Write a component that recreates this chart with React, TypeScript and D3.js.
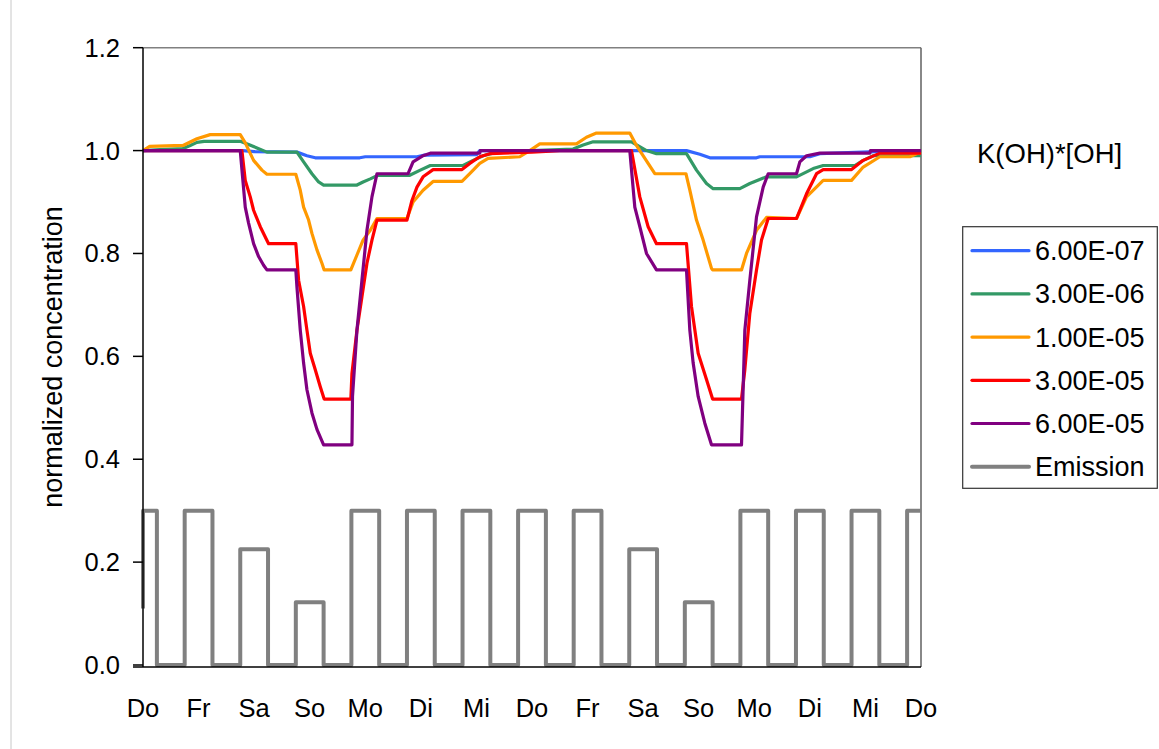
import React from "react";
import * as d3 from "d3";

const dayLabels = ["Do", "Fr", "Sa", "So", "Mo", "Di", "Mi", "Do", "Fr", "Sa", "So", "Mo", "Di", "Mi", "Do"];
const yTickValues = [0, 0.2, 0.4, 0.6, 0.8, 1.0, 1.2];

// [day, normalized concentration]
const k6e7: [number, number][] = [
  [0, 1.0], [1.8, 1.0], [2.0, 0.998], [2.77, 0.997], [2.95, 0.99], [3.1, 0.986], [3.9, 0.986], [4.0, 0.988],
  [4.93, 0.988], [5.05, 0.991], [6.0, 0.992], [6.06, 1.0], [9.78, 1.0], [10.02, 0.993], [10.2, 0.986],
  [11.04, 0.986], [11.1, 0.988], [12.0, 0.988], [12.18, 0.994], [13.2, 0.998], [14, 1.0],
];

const k3e6: [number, number][] = [
  [0, 1.0], [0.3, 1.002], [0.72, 1.004], [0.85, 1.01], [0.97, 1.016], [1.1, 1.018], [1.75, 1.018], [1.9, 1.012],
  [2.05, 1.005], [2.23, 0.997], [2.77, 0.997], [2.89, 0.978], [3.04, 0.955], [3.16, 0.939], [3.25, 0.933],
  [3.85, 0.933], [3.96, 0.939], [4.09, 0.945], [4.23, 0.952], [4.8, 0.952], [4.99, 0.962], [5.17, 0.971],
  [5.76, 0.971], [5.94, 0.981], [6.12, 0.99], [6.3, 0.995], [6.7, 0.998], [7.0, 1.0], [7.74, 1.003],
  [7.92, 1.011], [8.1, 1.017], [8.79, 1.017], [9.06, 1.0], [9.24, 0.994], [9.78, 0.994], [9.96, 0.962],
  [10.14, 0.936], [10.26, 0.926], [10.74, 0.926], [10.92, 0.936], [11.22, 0.949], [11.76, 0.949],
  [12.06, 0.965], [12.24, 0.971], [12.81, 0.971], [12.96, 0.981], [13.14, 0.99], [13.8, 0.99], [14, 0.99],
];

const k1e5: [number, number][] = [
  [0, 1.0], [0.12, 1.008], [0.72, 1.01], [0.97, 1.023], [1.21, 1.031], [1.75, 1.031], [1.84, 1.015],
  [1.99, 0.981], [2.14, 0.962], [2.23, 0.954], [2.75, 0.954], [2.83, 0.923], [2.89, 0.89], [2.98, 0.865],
  [3.04, 0.839], [3.13, 0.807], [3.22, 0.781], [3.26, 0.768], [3.74, 0.768], [3.85, 0.797], [3.96, 0.826],
  [4.09, 0.845], [4.21, 0.868], [4.75, 0.868], [4.86, 0.9], [5.04, 0.923], [5.22, 0.94], [5.74, 0.94],
  [5.88, 0.955], [6.06, 0.975], [6.21, 0.985], [6.78, 0.988], [6.96, 1.0], [7.14, 1.013], [7.8, 1.013],
  [7.98, 1.026], [8.16, 1.034], [8.76, 1.034], [8.88, 1.01], [8.94, 1.0], [9.21, 0.955], [9.77, 0.955],
  [9.84, 0.923], [9.96, 0.865], [10.08, 0.826], [10.23, 0.771], [10.25, 0.768], [10.77, 0.768],
  [10.86, 0.8], [11.04, 0.845], [11.22, 0.87], [11.76, 0.868], [11.94, 0.91], [12.24, 0.942],
  [12.75, 0.942], [12.96, 0.968], [13.26, 0.988], [13.8, 0.988], [13.95, 0.995], [14, 0.997],
];

const k3e5: [number, number][] = [
  [0, 1.0], [1.78, 1.0], [1.84, 0.942], [1.93, 0.91], [1.99, 0.884], [2.11, 0.852], [2.2, 0.832],
  [2.26, 0.819], [2.75, 0.819], [2.8, 0.748], [2.89, 0.697], [2.95, 0.651], [3.01, 0.606], [3.1, 0.574],
  [3.19, 0.541], [3.26, 0.517], [3.74, 0.517], [3.76, 0.567], [3.85, 0.651], [3.94, 0.716], [4.03, 0.781],
  [4.12, 0.826], [4.21, 0.865], [4.75, 0.865], [4.84, 0.903], [4.93, 0.929], [5.04, 0.949], [5.22, 0.963],
  [5.74, 0.963], [5.88, 0.975], [6.06, 0.988], [6.24, 0.994], [7.0, 0.997], [7.5, 1.0], [8.79, 1.0],
  [8.94, 0.91], [9.09, 0.852], [9.24, 0.819], [9.78, 0.819], [9.87, 0.697], [9.99, 0.606], [10.14, 0.555],
  [10.25, 0.517], [10.77, 0.517], [10.83, 0.574], [10.92, 0.684], [11.04, 0.768], [11.13, 0.826],
  [11.25, 0.868], [11.76, 0.868], [11.94, 0.916], [12.12, 0.955], [12.24, 0.963], [12.75, 0.963],
  [12.96, 0.981], [13.26, 0.995], [14, 0.995],
];

const k6e5: [number, number][] = [
  [0, 1.0], [1.75, 1.0], [1.84, 0.89], [1.9, 0.859], [1.99, 0.819], [2.08, 0.794], [2.17, 0.777],
  [2.23, 0.768], [2.75, 0.768], [2.77, 0.735], [2.83, 0.651], [2.89, 0.587], [2.95, 0.535], [3.04, 0.49],
  [3.13, 0.458], [3.25, 0.428], [3.76, 0.428], [3.77, 0.522], [3.85, 0.651], [3.94, 0.748], [4.03, 0.845],
  [4.12, 0.91], [4.21, 0.955], [4.77, 0.955], [4.86, 0.978], [5.04, 0.99], [5.17, 0.995], [6.06, 0.995],
  [6.07, 1.0], [8.76, 1.0], [8.85, 0.89], [8.94, 0.852], [9.06, 0.8], [9.24, 0.768], [9.78, 0.768],
  [9.84, 0.651], [9.9, 0.587], [9.99, 0.522], [10.11, 0.47], [10.23, 0.428], [10.77, 0.428], [10.83, 0.651],
  [10.92, 0.748], [11.04, 0.871], [11.16, 0.929], [11.25, 0.955], [11.76, 0.955], [11.82, 0.978],
  [11.94, 0.99], [12.18, 0.995], [13.08, 0.995], [13.09, 1.0], [14, 1.0],
];

// emission level of the pulse around each day tick
const emissionLevels = [0.3, 0.3, 0.225, 0.122, 0.3, 0.3, 0.3, 0.3, 0.3, 0.225, 0.122, 0.3, 0.3, 0.3, 0.3];
const emissionStart = 0.11;
const pulseHalfWidth = 0.25;

const seriesNames = ["6.00E-07", "3.00E-06", "1.00E-05", "3.00E-05", "6.00E-05", "Emission"];
const seriesColors = ["#3366ff", "#339966", "#ff9900", "#ff0000", "#800080", "#808080"];

const W = 1159;
const H = 749;
const left = 143;
const right = 921;
const top = 47.7;
const bottom = 665;
const font = "'Liberation Sans', Arial, sans-serif";

export default function App() {
  const x = d3.scaleLinear().domain([0, 14]).range([left, right]);
  const y = d3.scaleLinear().domain([0, 1.2]).range([bottom, top]);
  const line = d3
    .line<[number, number]>()
    .x((d) => x(d[0]))
    .y((d) => y(d[1]));

  // build emission step path from the daily levels
  const emission: [number, number][] = [[0, emissionStart]];
  emissionLevels.forEach((v, i) => {
    const a = Math.max(0, i - pulseHalfWidth);
    const b = Math.min(14, i + pulseHalfWidth);
    if (i > 0) emission.push([a, 0]);
    emission.push([a, v], [b, v]);
    if (i < 14) emission.push([b, 0]);
  });

  const series = [k6e7, k3e6, k1e5, k3e5, k6e5, emission];

  return (
    <svg width={W} height={H} style={{ position: "absolute", left: 0, top: 0, background: "#fff" }}>
      <line x1={11} x2={11} y1={0} y2={H} stroke="#c8c8c8" strokeWidth={1} />

      {/* frame */}
      <line x1={left} x2={right} y1={top} y2={top} stroke="#808080" strokeWidth={1.5} />
      <line x1={right} x2={right} y1={top} y2={bottom + 2} stroke="#606060" strokeWidth={1.5} />

      {series.map((s, i) => (
        <path
          key={seriesNames[i]}
          d={line(s) ?? ""}
          fill="none"
          stroke={seriesColors[i]}
          strokeWidth={i === 5 ? 4 : 3.2}
          strokeLinejoin="round"
        />
      ))}

      {/* y axis */}
      <line x1={left} x2={left} y1={top} y2={bottom + 2} stroke="#000" strokeWidth={1.5} />
      {yTickValues.map((v) => (
        <g key={v}>
          <line x1={left - 10} x2={left} y1={y(v)} y2={y(v)} stroke="#000" strokeWidth={1.5} />
          <text x={120} y={y(v)} dy="0.35em" textAnchor="end" fontFamily={font} fontSize={25.5} fill="#000">
            {d3.format(".1f")(v)}
          </text>
        </g>
      ))}
      <text
        transform={`translate(62,357) rotate(-90)`}
        textAnchor="middle"
        fontFamily={font}
        fontSize={27}
        fill="#000"
      >
        normalized concentration
      </text>

      {/* x axis */}
      <line x1={left - 10} x2={right} y1={bottom + 2} y2={bottom + 2} stroke="#000" strokeWidth={1.5} />
      {dayLabels.map((d, i) => (
        <text key={i} x={x(i)} y={716.5} textAnchor="middle" fontFamily={font} fontSize={25.5} fill="#000">
          {d}
        </text>
      ))}

      {/* legend */}
      <text x={977} y={163.3} fontFamily={font} fontSize={27.5} fill="#000">
        K(OH)*[OH]
      </text>
      <rect x={962.7} y={226.7} width={194.6} height={261.6} fill="#fff" stroke="#333" strokeWidth={1.2} />
      {seriesNames.map((n, i) => {
        const ly = 250.7 + i * 43.2;
        return (
          <g key={n}>
            <line
              x1={972}
              x2={1029}
              y1={ly}
              y2={ly}
              stroke={seriesColors[i]}
              strokeWidth={i === 5 ? 4 : 3.2}
              strokeLinecap="round"
            />
            <text x={1035} y={ly + 9.5} fontFamily={font} fontSize={27} fill="#000">
              {n}
            </text>
          </g>
        );
      })}
    </svg>
  );
}
